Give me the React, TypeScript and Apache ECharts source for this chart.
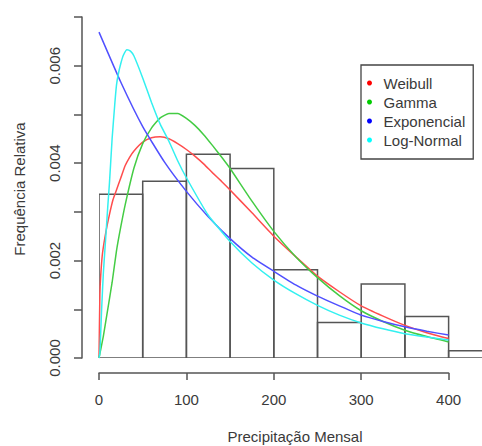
import React, { useEffect, useRef } from "react";
import * as echarts from "echarts";

const histEdges = [0, 50, 100, 150, 200, 250, 300, 350, 400, 450];
const histDensity = [0.00336, 0.00363, 0.00418, 0.00389, 0.00181, 0.00073, 0.00152, 0.00085, 0.00015];

const weibullX = [0, 1, 2, 4, 8, 12, 16, 20, 25, 30, 35, 40, 50, 60, 70, 80, 90, 100, 110, 120, 130, 140, 150, 175, 200, 225, 250, 275, 300, 325, 350, 375, 400];
const weibullY = [0, 1.3, 1.7, 2.15, 2.6, 2.95, 3.25, 3.45, 3.7, 3.95, 4.12, 4.25, 4.43, 4.52, 4.54, 4.5, 4.4, 4.28, 4.14, 3.98, 3.8, 3.63, 3.45, 2.98, 2.5, 2.08, 1.68, 1.36, 1.07, 0.86, 0.67, 0.52, 0.4];

const gammaX = [0, 5, 10, 15, 20, 25, 30, 40, 50, 60, 70, 80, 90, 100, 110, 120, 130, 140, 150, 175, 200, 225, 250, 275, 300, 325, 350, 375, 400];
const gammaY = [0, 0.45, 1.0, 1.55, 2.2, 2.7, 3.15, 3.9, 4.4, 4.72, 4.93, 5.02, 5.02, 4.92, 4.77, 4.58, 4.36, 4.13, 3.89, 3.22, 2.6, 2.08, 1.65, 1.28, 0.97, 0.75, 0.57, 0.44, 0.33];

const expX = [0, 25, 50, 75, 100, 125, 150, 175, 200, 225, 250, 275, 300, 325, 350, 375, 400];
const expY = [6.69, 5.66, 4.75, 4.02, 3.42, 2.9, 2.45, 2.07, 1.78, 1.5, 1.27, 1.07, 0.88, 0.75, 0.64, 0.55, 0.47];

const lognormX = [0, 1, 3, 5, 8, 10, 12, 15, 18, 20, 22, 25, 28, 32, 36, 40, 50, 60, 70, 80, 90, 100, 125, 150, 175, 200, 225, 250, 275, 300, 325, 350, 375, 400];
const lognormY = [0, 0.1, 1.0, 1.75, 2.55, 3.1, 3.6, 4.5, 5.2, 5.6, 5.82, 6.05, 6.22, 6.33, 6.3, 6.2, 5.75, 5.25, 4.8, 4.45, 4.05, 3.7, 2.93, 2.39, 1.95, 1.6, 1.32, 1.08, 0.88, 0.72, 0.6, 0.5, 0.43, 0.37];

const xTicks = { min: 0, max: 400, interval: 100 };
const yTicks = { min: 0, max: 0.007, interval: 0.001 };

const seriesNames = ["Weibull", "Gamma", "Exponencial", "Log-Normal"];
const dotColors = ["#ff0000", "#00cc00", "#0000ff", "#00ffff"];
const lineColors = ["#ff4d4d", "#44cc44", "#5050ff", "#33f0f0"];

const FONT = "'Liberation Sans', Arial, sans-serif";
const TEXT = "#3a3a3a";
const AXIS = "#555555";

function pairs(xs: number[], ys: number[]) {
  return xs.map((x, i) => [x, ys[i] / 1000]);
}

export default function App() {
  const ref = useRef<HTMLDivElement>(null);
  useEffect(() => {
    if (!ref.current) return;
    const chart = echarts.init(ref.current, null, { renderer: "svg" });
    const curves = [pairs(weibullX, weibullY), pairs(gammaX, gammaY), pairs(expX, expY), pairs(lognormX, lognormY)];
    chart.setOption({
      animation: false,
      backgroundColor: "#ffffff",
      grid: [
        { left: 99, top: 17, width: 383, height: 341 },
        { left: 99, top: 372, width: 349.6, height: 1 },
        { left: 82, top: 17, width: 1, height: 341 },
      ],
      xAxis: [
        { gridIndex: 0, type: "value", min: 0, max: 438.2, show: false },
        {
          gridIndex: 1,
          type: "value",
          min: xTicks.min,
          max: xTicks.max,
          interval: xTicks.interval,
          axisLine: { show: true, lineStyle: { color: AXIS, width: 1.5 } },
          axisTick: { show: true, length: 7, lineStyle: { color: AXIS, width: 1.5 } },
          axisLabel: { show: true, margin: 19, fontSize: 15, fontFamily: FONT, color: TEXT },
          splitLine: { show: false },
        },
        { gridIndex: 2, type: "value", min: 0, max: 1, show: false },
      ],
      yAxis: [
        { gridIndex: 0, type: "value", min: 0, max: 0.007, show: false },
        { gridIndex: 1, type: "value", min: 0, max: 1, show: false },
        {
          gridIndex: 2,
          type: "value",
          position: "left",
          min: yTicks.min,
          max: yTicks.max,
          interval: yTicks.interval,
          axisLine: { show: true, lineStyle: { color: AXIS, width: 1.5 } },
          axisTick: { show: true, length: 8, lineStyle: { color: AXIS, width: 1.5 } },
          axisLabel: {
            show: true,
            rotate: 90,
            margin: 20,
            fontSize: 15,
            fontFamily: FONT,
            color: TEXT,
            formatter: (v: number) => (Math.round(v * 1000) % 2 === 0 ? v.toFixed(3) : ""),
          },
          splitLine: { show: false },
        },
      ],
      legend: {
        data: seriesNames,
        orient: "vertical",
        left: 361,
        top: 65,
        icon: "circle",
        itemWidth: 18,
        itemHeight: 5,
        itemGap: 3,
        padding: [10, 8, 11, 6],
        borderColor: "#444",
        borderWidth: 1.3,
        backgroundColor: "#fff",
        selectedMode: false,
        textStyle: { fontSize: 15, lineHeight: 16, fontFamily: FONT, color: TEXT, padding: [0, 0, 0, 0] },
      },
      graphic: [
        {
          type: "text",
          x: 295,
          y: 436,
          style: { text: "Precipitação Mensal", fontSize: 15, fontFamily: FONT, fill: TEXT, align: "center", verticalAlign: "middle" },
        },
        {
          type: "text",
          x: 19,
          y: 189,
          rotation: Math.PI / 2,
          style: { text: "Frequência Relativa", fontSize: 15, fontFamily: FONT, fill: TEXT, align: "center", verticalAlign: "middle" },
        },
      ],
      series: [
        {
          type: "custom",
          name: "hist",
          xAxisIndex: 0,
          yAxisIndex: 0,
          z: 1,
          clip: true,
          data: histDensity.map((d, i) => [histEdges[i], histEdges[i + 1], d]),
          encode: { x: [0, 1], y: 2 },
          renderItem: (params: any, api: any) => {
            const p0 = api.coord([api.value(0), 0]);
            const p1 = api.coord([api.value(1), api.value(2)]);
            return {
              type: "rect",
              shape: { x: p0[0], y: p1[1], width: p1[0] - p0[0], height: p0[1] - p1[1] },
              style: { fill: "none", stroke: AXIS, lineWidth: 1.5 },
            };
          },
        },
        ...seriesNames.map((name, i) => ({
          type: "line",
          name,
          xAxisIndex: 0,
          yAxisIndex: 0,
          z: 3,
          data: curves[i],
          symbol: "none",
          showSymbol: false,
          smooth: 0.15,
          itemStyle: { color: dotColors[i] },
          lineStyle: { color: lineColors[i], width: 1.5 },
        })),
      ],
    });
    return () => chart.dispose();
  }, []);
  return <div ref={ref} style={{ position: "fixed", left: 0, top: 0, width: 482, height: 446 }} />;
}
